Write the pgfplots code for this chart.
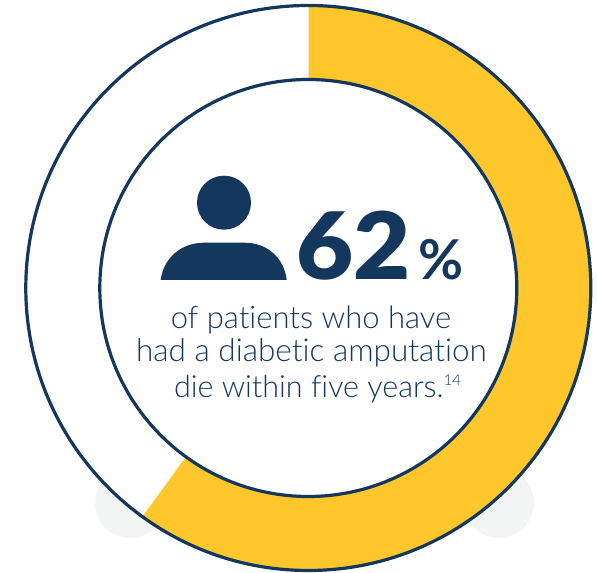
\documentclass[border=0pt]{standalone}
\usepackage{pgfplots}
\pgfplotsset{compat=1.18}
\usepackage{fontspec}
\setmainfont{Lato}
\newfontfamily\lightf[Ligatures=NoCommon]{Lato Light}
\newfontfamily\heavyf{Lato Black}
\definecolor{navy}{HTML}{14375E}
\definecolor{gold}{HTML}{FFC72C}
\definecolor{pale}{HTML}{F3F5F5}
\begin{document}
\begin{tikzpicture}
\begin{axis}[x=1pt,y=1pt,xmin=-308.3,xmax=288.7,ymin=-284,ymax=288,hide axis,clip=false,enlargelimits=false]
\path (axis cs:-308.3,-284) rectangle (axis cs:288.7,288);
% shadow discs behind the ring
\fill[pale] (axis cs:-178.3,-215) circle[radius=35];
\fill[pale] (axis cs:190.7,-215) circle[radius=35];
% share drawn as filled: angle, radius
\addplot[fill=gold,draw=none,data cs=polar] coordinates {
(90,283)(86,283)(82,283)(78,283)(74,283)(70,283)(66,283)(62,283)(58,283)(54,283)(50,283)(46,283)(42,283)(38,283)(34,283)(30,283)(26,283)(22,283)(18,283)(14,283)(10,283)(6,283)(2,283)(-2,283)(-6,283)(-10,283)(-14,283)(-18,283)(-22,283)(-26,283)(-30,283)(-34,283)(-38,283)(-42,283)(-46,283)(-50,283)(-54,283)(-58,283)(-62,283)(-66,283)(-70,283)(-74,283)(-78,283)(-82,283)(-86,283)(-90,283)(-94,283)(-98,283)(-102,283)(-106,283)(-110,283)(-114,283)(-118,283)(-122,283)(-126,283)
(-126,209)(-122,209)(-118,209)(-114,209)(-110,209)(-106,209)(-102,209)(-98,209)(-94,209)(-90,209)(-86,209)(-82,209)(-78,209)(-74,209)(-70,209)(-66,209)(-62,209)(-58,209)(-54,209)(-50,209)(-46,209)(-42,209)(-38,209)(-34,209)(-30,209)(-26,209)(-22,209)(-18,209)(-14,209)(-10,209)(-6,209)(-2,209)(2,209)(6,209)(10,209)(14,209)(18,209)(22,209)(26,209)(30,209)(34,209)(38,209)(42,209)(46,209)(50,209)(54,209)(58,209)(62,209)(66,209)(70,209)(74,209)(78,209)(82,209)(86,209)(90,209)
} -- cycle;
% remaining share: angle, radius
\addplot[fill=white,draw=none,data cs=polar] coordinates {
(-126,283)(-130,283)(-134,283)(-138,283)(-142,283)(-146,283)(-150,283)(-154,283)(-158,283)(-162,283)(-166,283)(-170,283)(-174,283)(-178,283)(-182,283)(-186,283)(-190,283)(-194,283)(-198,283)(-202,283)(-206,283)(-210,283)(-214,283)(-218,283)(-222,283)(-226,283)(-230,283)(-234,283)(-238,283)(-242,283)(-246,283)(-250,283)(-254,283)(-258,283)(-262,283)(-266,283)(-270,283)
(-270,209)(-266,209)(-262,209)(-258,209)(-254,209)(-250,209)(-246,209)(-242,209)(-238,209)(-234,209)(-230,209)(-226,209)(-222,209)(-218,209)(-214,209)(-210,209)(-206,209)(-202,209)(-198,209)(-194,209)(-190,209)(-186,209)(-182,209)(-178,209)(-174,209)(-170,209)(-166,209)(-162,209)(-158,209)(-154,209)(-150,209)(-146,209)(-142,209)(-138,209)(-134,209)(-130,209)(-126,209)
} -- cycle;
\draw[navy,line width=3.2pt] (axis cs:0,0) circle[radius=282.5];
\draw[navy,line width=3.2pt] (axis cs:0,0) circle[radius=208.5];
% person icon
\fill[navy] (axis cs:-84.3,85.3) circle[radius=27];
\fill[navy] (axis cs:-147.6,8) .. controls (axis cs:-145,29) and (axis cs:-128,45.3) .. (axis cs:-104,45.3) -- (axis cs:-64,45.3) .. controls (axis cs:-40,45.3) and (axis cs:-24,29) .. (axis cs:-21.6,8) -- cycle;
% texts
\node[anchor=base west,inner sep=0pt,navy,font=\heavyf\fontsize{93}{93}\selectfont] at (axis cs:-12,8) {\scalebox{1.06}[1]{62}};
\node[anchor=base west,inner sep=0pt,navy,font=\fontspec{Lato Bold}\fontsize{55}{55}\selectfont] at (axis cs:110,8) {\%};
\node[anchor=base,inner sep=0pt,navy,font=\lightf\fontsize{31}{31}\selectfont] at (axis cs:2.7,-41) {of patients who have};
\node[anchor=base,inner sep=0pt,navy,font=\lightf\fontsize{31.5}{31.5}\selectfont] at (axis cs:3.2,-74) {had a diabetic amputation};
\node[anchor=base,inner sep=0pt,navy,font=\lightf\fontsize{30.5}{30.5}\selectfont] at (axis cs:9.2,-110) {die within five years.\raisebox{12pt}{\fontsize{15}{15}\selectfont 14}};
\end{axis}
\end{tikzpicture}
\end{document}
